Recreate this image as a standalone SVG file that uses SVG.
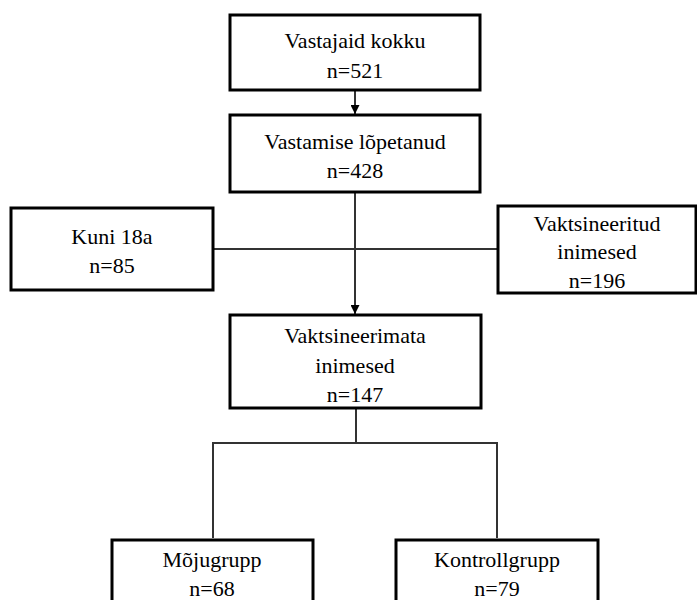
<svg xmlns="http://www.w3.org/2000/svg" width="697" height="600" viewBox="0 0 697 600">
<defs>
<marker id="ah" viewBox="0 0 10 10" refX="10" refY="5" markerWidth="10" markerHeight="9" markerUnits="userSpaceOnUse" orient="auto">
<path d="M0,0 L10,5 L0,10 Z" fill="#000"/>
</marker>
</defs>
<rect width="697" height="600" fill="#fff"/>
<g id="connectors" fill="none" stroke="#333" stroke-width="2">
<line x1="355" y1="90" x2="355" y2="114" marker-end="url(#ah)"/>
<line x1="355" y1="192" x2="355" y2="314" marker-end="url(#ah)"/>
<line x1="213" y1="249" x2="498" y2="249"/>
<polyline points="356,408 356,443"/>
<polyline points="213,538 213,443 497,443 497,538"/>
</g>
<g id="n1"><rect x="230" y="15" width="250" height="75" fill="#fff" stroke="#000" stroke-width="3"/><text x="355" y="48" font-family="Liberation Serif" font-size="22" text-anchor="middle">Vastajaid kokku</text><text x="355" y="78" font-family="Liberation Serif" font-size="22" text-anchor="middle">n=521</text></g>
<g id="n2"><rect x="230" y="115" width="250" height="77" fill="#fff" stroke="#000" stroke-width="3"/><text x="355" y="149" font-family="Liberation Serif" font-size="22" text-anchor="middle">Vastamise lõpetanud</text><text x="355" y="178" font-family="Liberation Serif" font-size="22" text-anchor="middle">n=428</text></g>
<g id="n3"><rect x="11" y="208" width="202" height="82" fill="#fff" stroke="#000" stroke-width="3"/><text x="112" y="244" font-family="Liberation Serif" font-size="22" text-anchor="middle">Kuni 18a</text><text x="112" y="273" font-family="Liberation Serif" font-size="22" text-anchor="middle">n=85</text></g>
<g id="n4"><rect x="498" y="206" width="198" height="87" fill="#fff" stroke="#000" stroke-width="3"/><text x="597" y="231" font-family="Liberation Serif" font-size="22" text-anchor="middle">Vaktsineeritud</text><text x="597" y="259" font-family="Liberation Serif" font-size="22" text-anchor="middle">inimesed</text><text x="597" y="288" font-family="Liberation Serif" font-size="22" text-anchor="middle">n=196</text></g>
<g id="n5"><rect x="230" y="315" width="251" height="93" fill="#fff" stroke="#000" stroke-width="3"/><text x="355" y="343" font-family="Liberation Serif" font-size="22" text-anchor="middle">Vaktsineerimata</text><text x="355" y="373" font-family="Liberation Serif" font-size="22" text-anchor="middle">inimesed</text><text x="355" y="402" font-family="Liberation Serif" font-size="22" text-anchor="middle">n=147</text></g>
<g id="n6"><rect x="112" y="540" width="201" height="70" fill="#fff" stroke="#000" stroke-width="3"/><text x="212" y="567" font-family="Liberation Serif" font-size="22" text-anchor="middle">Mõjugrupp</text><text x="212" y="596" font-family="Liberation Serif" font-size="22" text-anchor="middle">n=68</text></g>
<g id="n7"><rect x="396" y="540" width="202" height="70" fill="#fff" stroke="#000" stroke-width="3"/><text x="497" y="567" font-family="Liberation Serif" font-size="22" text-anchor="middle">Kontrollgrupp</text><text x="497" y="596" font-family="Liberation Serif" font-size="22" text-anchor="middle">n=79</text></g>
</svg>
